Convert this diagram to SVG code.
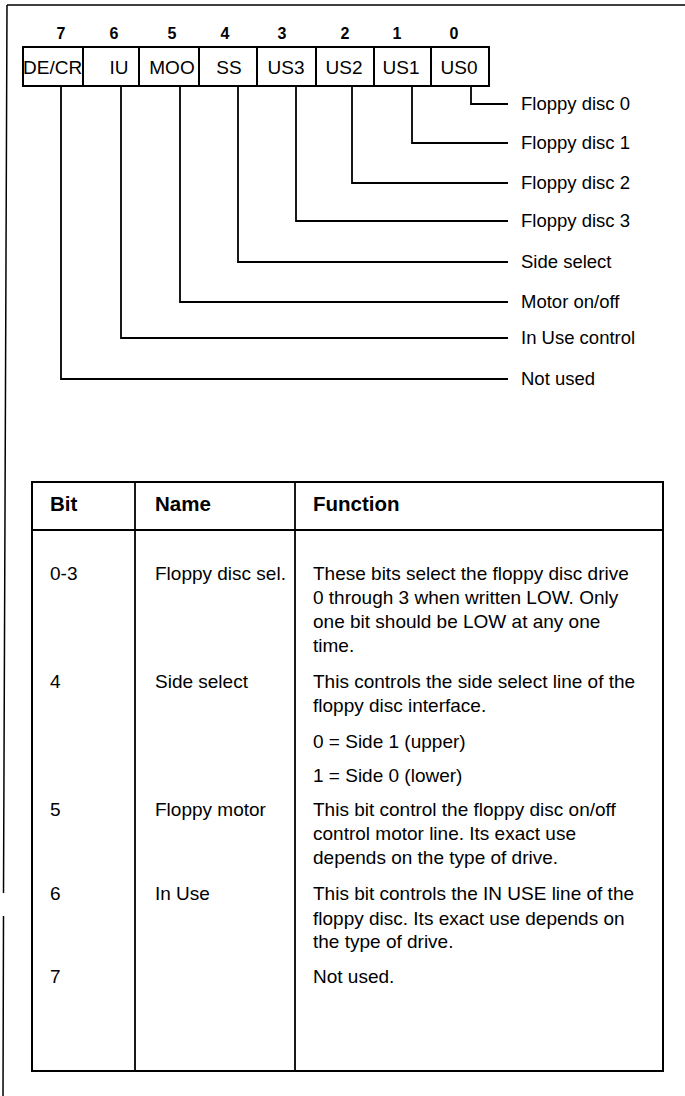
<svg xmlns="http://www.w3.org/2000/svg" width="685" height="1096" viewBox="0 0 685 1096">
<style>
text{font-family:"Liberation Sans",Arial,Helvetica,sans-serif;fill:#000}
.num{font-size:16px;font-weight:bold;text-anchor:middle}
.cell{fill:#fff;stroke:#000;stroke-width:2}
.cl{font-size:19px;text-anchor:middle}
.lbl{font-size:18.5px}
.hd{font-size:20.5px;font-weight:bold}
.tx{font-size:19px}
.ln{fill:none;stroke:#000;stroke-width:1.8}
.frame{fill:none;stroke:#000;stroke-width:1.5}
</style>
<rect width="685" height="1096" fill="#fff"/>
<g id="page-frame">
<path class="frame" d="M7 5 H685 M7 5 L3.5 893 M3.5 916 L3 1096"/>
</g>
<g id="register">
<g id="bit7"><text class="num" x="61" y="39">7</text><rect class="cell" x="23" y="47" width="60" height="39"/><text class="cl" x="23" y="74" style="text-anchor:start">DE/CR</text></g>
<g id="bit6"><text class="num" x="114" y="39">6</text><rect class="cell" x="83" y="47" width="56" height="39"/><text class="cl" x="119" y="74">IU</text></g>
<g id="bit5"><text class="num" x="172" y="39">5</text><rect class="cell" x="139" y="47" width="60" height="39"/><text class="cl" x="172" y="74">MOO</text></g>
<g id="bit4"><text class="num" x="225" y="39">4</text><rect class="cell" x="199" y="47" width="58" height="39"/><text class="cl" x="229" y="74">SS</text></g>
<g id="bit3"><text class="num" x="282" y="39">3</text><rect class="cell" x="257" y="47" width="59" height="39"/><text class="cl" x="286" y="74">US3</text></g>
<g id="bit2"><text class="num" x="345" y="39">2</text><rect class="cell" x="316" y="47" width="58" height="39"/><text class="cl" x="344" y="74">US2</text></g>
<g id="bit1"><text class="num" x="397" y="39">1</text><rect class="cell" x="374" y="47" width="57" height="39"/><text class="cl" x="401" y="74">US1</text></g>
<g id="bit0"><text class="num" x="454" y="39">0</text><rect class="cell" x="431" y="47" width="58" height="39"/><text class="cl" x="459" y="74">US0</text></g>
</g>
<g id="connectors">
<path class="ln" d="M471 86 V104 H508"/>
<path class="ln" d="M412 86 V143 H508"/>
<path class="ln" d="M352 86 V183 H508"/>
<path class="ln" d="M296 86 V221 H508"/>
<path class="ln" d="M238 86 V262 H508"/>
<path class="ln" d="M180 86 V302 H508"/>
<path class="ln" d="M121 86 V338 H508"/>
<path class="ln" d="M61 86 V379 H508"/>
</g>
<g id="labels">
<text id="lbl0" class="lbl" x="521" y="110">Floppy disc 0</text>
<text id="lbl1" class="lbl" x="521" y="149">Floppy disc 1</text>
<text id="lbl2" class="lbl" x="521" y="189">Floppy disc 2</text>
<text id="lbl3" class="lbl" x="521" y="227">Floppy disc 3</text>
<text id="lbl4" class="lbl" x="521" y="268">Side select</text>
<text id="lbl5" class="lbl" x="521" y="308">Motor on/off</text>
<text id="lbl6" class="lbl" x="521" y="344">In Use control</text>
<text id="lbl7" class="lbl" x="521" y="385">Not used</text>
</g>
<g id="table">
<rect x="32" y="482" width="631" height="589" fill="none" stroke="#000" stroke-width="2"/>
<path class="ln" d="M32 530 H663 M135 482 V1071 M295 482 V1071"/>
<text class="hd" x="50" y="511">Bit</text>
<text class="hd" x="155" y="511">Name</text>
<text class="hd" x="313" y="511">Function</text>
<text class="tx" x="50" y="580">0-3</text>
<text class="tx" x="155" y="580">Floppy disc sel.</text>
<text class="tx" x="313" y="580">These bits select the floppy disc drive</text>
<text class="tx" x="313" y="604">0 through 3 when written LOW. Only</text>
<text class="tx" x="313" y="628">one bit should be LOW at any one</text>
<text class="tx" x="313" y="652">time.</text>
<text class="tx" x="50" y="688">4</text>
<text class="tx" x="155" y="688">Side select</text>
<text class="tx" x="313" y="688">This controls the side select line of the</text>
<text class="tx" x="313" y="712">floppy disc interface.</text>
<text class="tx" x="313" y="748">0 = Side 1 (upper)</text>
<text class="tx" x="313" y="782">1 = Side 0 (lower)</text>
<text class="tx" x="50" y="816">5</text>
<text class="tx" x="155" y="816">Floppy motor</text>
<text class="tx" x="313" y="816">This bit control the floppy disc on/off</text>
<text class="tx" x="313" y="840">control motor line. Its exact use</text>
<text class="tx" x="313" y="864">depends on the type of drive.</text>
<text class="tx" x="50" y="900">6</text>
<text class="tx" x="155" y="900">In Use</text>
<text class="tx" x="313" y="900">This bit controls the IN USE line of the</text>
<text class="tx" x="313" y="925">floppy disc. Its exact use depends on</text>
<text class="tx" x="313" y="948">the type of drive.</text>
<text class="tx" x="50" y="983">7</text>
<text class="tx" x="313" y="983">Not used.</text>
</g>
</svg>
